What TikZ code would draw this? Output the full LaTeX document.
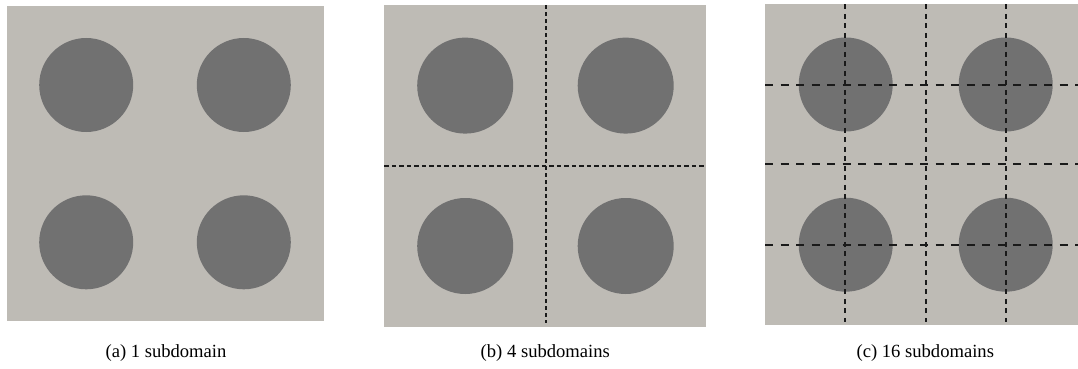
\documentclass[tikz,border=0pt]{standalone}
\usepackage{fontspec}
\setmainfont{Liberation Serif}
\definecolor{bgpanel}{HTML}{BEBBB5}
\definecolor{inclusion}{HTML}{717171}
\definecolor{cutline}{HTML}{1A1A1A}
\tikzset{
  panel/.style={fill=bgpanel, draw=none},
  disk/.style={circle, fill=inclusion, draw=none, inner sep=0pt, minimum size=#1},
  hcutb/.style={draw=cutline, line width=1.6pt, dash pattern=on 4.5pt off 3pt},
  vcutb/.style={draw=cutline, line width=1.6pt, dash pattern=on 4pt off 3pt},
  hcutc/.style={draw=cutline, line width=1.9pt, dash pattern=on 8pt off 7.5pt},
  vcutc/.style={draw=cutline, line width=1.9pt, dash pattern=on 5pt off 4.5pt},
  caption/.style={font=\fontsize{18.6}{22}\selectfont, inner sep=0pt}
}
\begin{document}
\begin{tikzpicture}[x=1pt,y=-1pt]
\useasboundingbox (0,0) rectangle (1078,369);
\fill[white] (0,0) rectangle (1078,369);
% (a)
\fill[panel] (7,6) rectangle (323.5,321);
\node[disk=94pt] (a1) at (86.2,85) {};
\node[disk=94pt] (a2) at (243.8,85) {};
\node[disk=94pt] (a3) at (86.2,242.3) {};
\node[disk=94pt] (a4) at (243.8,242.3) {};
\node[caption] (ca) at (166,353) {(a) 1 subdomain};
% (b)
\fill[panel] (384.3,5.3) rectangle (705.7,326.5);
\node[disk=96pt] (b1) at (465.2,85.6) {};
\node[disk=96pt] (b2) at (625.7,85.6) {};
\node[disk=96pt] (b3) at (465.2,246) {};
\node[disk=96pt] (b4) at (625.7,246) {};
\coordinate (bvt) at (545.7,5.3);
\coordinate (bvb) at (545.7,323);
\coordinate (bhl) at (384.3,165.7);
\coordinate (bhr) at (705.7,165.7);
\draw[vcutb] (bvt) -- (bvb);
\draw[hcutb] (bhl) -- (bhr);
\node[caption] (cb) at (545.3,353) {(b) 4 subdomains};
% (c)
\fill[panel] (765,4.3) rectangle (1078,324.5);
\node[disk=94pt] (c1) at (845.7,84.5) {};
\node[disk=94pt] (c2) at (1005.7,84.5) {};
\node[disk=94pt] (c3) at (845.7,244.7) {};
\node[disk=94pt] (c4) at (1005.7,244.7) {};
\foreach \xx/\nm in {845.3/v1, 925.7/v2, 1006.3/v3}{
  \coordinate (c\nm t) at (\xx,4.3);
  \coordinate (c\nm b) at (\xx,322);
  \draw[vcutc] (c\nm t) -- (c\nm b);
}
\foreach \yy/\nm in {84.7/h1, 164/h2, 244.7/h3}{
  \coordinate (c\nm l) at (765,\yy);
  \coordinate (c\nm r) at (1078,\yy);
  \draw[hcutc] (c\nm l) -- (c\nm r);
}
\node[caption] (cc) at (925.3,353) {(c) 16 subdomains};
\end{tikzpicture}
\end{document}
